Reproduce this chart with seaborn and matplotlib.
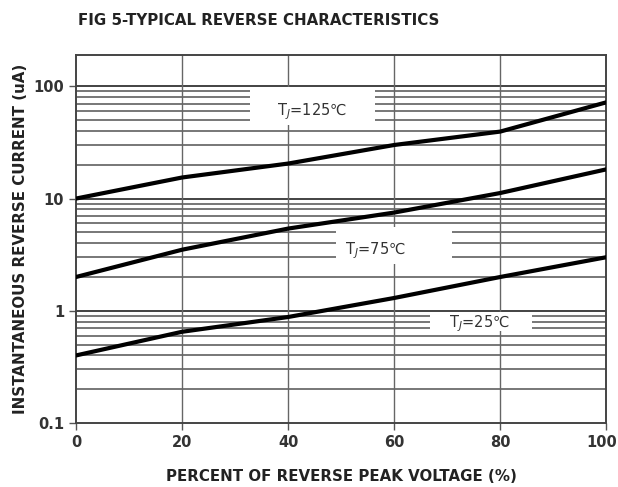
import numpy as np
import pandas as pd
import matplotlib
matplotlib.use('Agg')
import matplotlib.pyplot as plt
import matplotlib.transforms as mtransforms
from matplotlib.patches import Rectangle
from matplotlib.ticker import LogLocator, NullFormatter, FixedLocator
import seaborn as sns

# Data
VOLTAGE_PCT = [0, 20, 40, 60, 80, 100]
I_125C = [10, 15.4, 20.5, 30, 39.5, 72]
I_75C = [2.0, 3.5, 5.4, 7.5, 11.2, 18.2]
I_25C = [0.40, 0.65, 0.88, 1.3, 2.0, 3.0]
CURVE_NAMES = ['125', '75', '25']
LABEL_TEXT = ['T$_J$=125℃', 'T$_J$=75℃', 'T$_J$=25℃']
LABEL_X = [44.5, 56.5, 76]
LABEL_Y = [60, 3.4, 0.76]
# white boxes behind the labels: (x0, x1, y0, y1)
LABEL_BOX = [(32.8, 56.4, 45, 98), (49.0, 71.0, 2.6, 5.6), (66.8, 86.0, 0.66, 0.97)]
X_TICKS = [0, 20, 40, 60, 80, 100]
Y_TICKS = [0.1, 1, 10, 100]
Y_TICK_LABELS = ['0.1', '1', '10', '100']

sns.set_theme(style='white')
plt.rcParams['font.family'] = ['DejaVu Sans', 'Noto Sans CJK SC']

df = pd.DataFrame({
    'pct': VOLTAGE_PCT * 3,
    'current': I_125C + I_75C + I_25C,
    'tj': np.repeat(CURVE_NAMES, len(VOLTAGE_PCT)),
})

fig = plt.figure(figsize=(6.18, 4.87), dpi=100)
ax = fig.add_axes([0.123, 0.1314, 0.858, 0.7556])

ax.set_yscale('log')
ax.set_xlim(0, 100)
ax.set_ylim(0.1, 190)

# grid
for y in [1, 10, 100]:
    ax.axhline(y, color='#222222', lw=1.2, zorder=1)
for dec in [0.1, 1, 10]:
    for m in range(2, 10):
        ax.axhline(dec * m, color='#777777', lw=1.4, zorder=1)
for x in X_TICKS[1:-1]:
    ax.axvline(x, color='#666666', lw=1.0, zorder=1)

sns.lineplot(data=df, x='pct', y='current', hue='tj', palette=['black'] * 3,
             legend=False, lw=3, ax=ax, zorder=4)

for (x0, x1, y0, y1), txt, lx, ly in zip(LABEL_BOX, LABEL_TEXT, LABEL_X, LABEL_Y):
    ax.add_patch(Rectangle((x0, y0), x1 - x0, y1 - y0, fc='white', ec='none', zorder=2))
    ax.text(lx, ly, txt, ha='center', va='center', fontsize=10.5, color='#333333',
            zorder=3)

ax.xaxis.set_major_locator(FixedLocator(X_TICKS))
ax.yaxis.set_major_locator(FixedLocator(Y_TICKS))
ax.set_yticklabels(Y_TICK_LABELS)
ax.yaxis.set_minor_locator(LogLocator(base=10, subs=np.arange(2, 10)))
ax.yaxis.set_minor_formatter(NullFormatter())
ax.tick_params(axis='y', which='minor', length=0)
ax.tick_params(axis='both', which='major', length=5, width=1, color='#555555',
               labelsize=10.5, labelcolor='#333333', direction='out',
               left=True, bottom=True)
for lbl in ax.get_xticklabels() + ax.get_yticklabels():
    lbl.set_fontweight('bold')
# nudge the last x tick label so it stays inside the figure
last = ax.get_xticklabels()[-1]
last.set_transform(last.get_transform() +
                   mtransforms.ScaledTranslation(-5 / 100, 0, fig.dpi_scale_trans))

for s in ax.spines.values():
    s.set_color('#444444')
    s.set_linewidth(1.4)

ax.set_xlabel('PERCENT OF REVERSE PEAK VOLTAGE (%)', fontsize=10.8,
              fontweight='bold', color='#222222', labelpad=14)
ax.set_ylabel('INSTANTANEOUS REVERSE CURRENT (uA)', fontsize=10.8,
              fontweight='bold', color='#222222', labelpad=4)
fig.text(0.418, 0.958, 'FIG 5-TYPICAL REVERSE CHARACTERISTICS', ha='center',
         va='center', fontsize=10.8, fontweight='bold', color='#222222')

fig.savefig('out.png', dpi=100)
